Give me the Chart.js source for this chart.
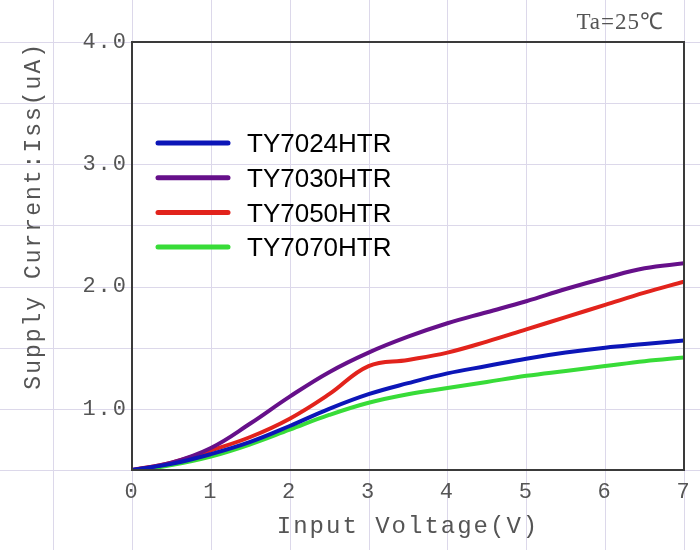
<!DOCTYPE html>
<html>
<head>
<meta charset="utf-8">
<script src="https://cdn.jsdelivr.net/npm/chart.js@4.4.1/dist/chart.umd.min.js"></script>
<style>
  html, body { margin: 0; padding: 0; background: #fff; }
  #wrap { width: 700px; height: 550px; }
</style>
</head>
<body>
<div id="wrap"><canvas id="issChart"></canvas></div>
<script>
// input voltage (V)
const voltage = [0, 0.5, 1, 1.5, 2, 2.5, 3, 3.5, 4, 4.5, 5, 5.5, 6, 6.5, 7];
// supply current Iss (uA)
const ty7024 = [0.50, 0.55, 0.63, 0.73, 0.86, 1.00, 1.12, 1.21, 1.29, 1.35, 1.41, 1.46, 1.50, 1.53, 1.56];
const ty7030 = [0.50, 0.56, 0.68, 0.88, 1.10, 1.30, 1.46, 1.59, 1.70, 1.79, 1.88, 1.98, 2.07, 2.15, 2.19];
const ty7050 = [0.50, 0.56, 0.66, 0.77, 0.92, 1.12, 1.35, 1.40, 1.46, 1.55, 1.65, 1.75, 1.85, 1.95, 2.04];
const ty7070 = [0.49, 0.54, 0.61, 0.71, 0.83, 0.95, 1.05, 1.12, 1.17, 1.22, 1.27, 1.31, 1.35, 1.39, 1.42];

const seriesNames = ["TY7024HTR", "TY7030HTR", "TY7050HTR", "TY7070HTR"];
const seriesValues = [ty7024, ty7030, ty7050, ty7070];
const seriesColors = ["#0c16b8", "#66108a", "#e2231c", "#38dc38"];

const axisFont = "'Liberation Mono', 'DejaVu Sans Mono', monospace";
const textGray = "#555";

// background grid paper + plot frame + legend + temperature note
const paperPlugin = {
  id: "paper",
  beforeDraw(chart) {
    const ctx = chart.ctx;
    const xs = chart.scales.x, ys = chart.scales.y;
    ctx.save();
    ctx.strokeStyle = "#dcd8ea";
    ctx.lineWidth = 1;
    for (let v = -1; v <= 7; v++) {
      const px = Math.round(xs.getPixelForValue(v)) + 0.5;
      ctx.beginPath(); ctx.moveTo(px, 0); ctx.lineTo(px, chart.height); ctx.stroke();
    }
    for (let v = 0.5; v <= 4; v += 0.5) {
      const py = Math.round(ys.getPixelForValue(v)) + 0.5;
      ctx.beginPath(); ctx.moveTo(0, py); ctx.lineTo(chart.width, py); ctx.stroke();
    }
    ctx.restore();
    // axis texts in the original are spaced out
    ctx.letterSpacing = "2px";
  },
  beforeDatasetsDraw(chart) {
    chart.ctx.letterSpacing = "0px";
  },
  afterDraw(chart) {
    const ctx = chart.ctx;
    const a = chart.chartArea;
    ctx.save();
    ctx.strokeStyle = "#3a3a3a";
    ctx.lineWidth = 2;
    ctx.strokeRect(a.left, a.top, a.right - a.left, a.bottom - a.top);

    // legend inside plot
    ctx.font = "26px 'Liberation Sans', Arial, sans-serif";
    ctx.textBaseline = "middle";
    ctx.textAlign = "left";
    chart.data.datasets.forEach((ds, i) => {
      const y = a.top + 101 + i * 34.7;
      ctx.strokeStyle = ds.borderColor;
      ctx.lineWidth = 5;
      ctx.lineCap = "round";
      ctx.beginPath(); ctx.moveTo(a.left + 26, y); ctx.lineTo(a.left + 96, y); ctx.stroke();
      ctx.fillStyle = "#000";
      ctx.fillText(ds.label, a.left + 115, y + 2);
    });

    // ambient temperature note
    ctx.font = "23px 'Liberation Serif', serif";
    ctx.fillStyle = textGray;
    ctx.textAlign = "right";
    ctx.textBaseline = "middle";
    ctx.letterSpacing = "1px";
    ctx.fillText("Ta=25℃", a.right - 20, a.top - 19);
    ctx.letterSpacing = "0px";
    ctx.restore();
  }
};

const datasets = seriesNames.map((name, i) => ({
  label: name,
  data: voltage.map((v, k) => ({ x: v, y: seriesValues[i][k] })),
  borderColor: seriesColors[i],
  backgroundColor: seriesColors[i],
  borderWidth: 4,
  pointRadius: 0,
  tension: 0.4,
  fill: false
}));

new Chart(document.getElementById("issChart"), {
  type: "line",
  data: { datasets: datasets },
  options: {
    responsive: true,
    maintainAspectRatio: false,
    animation: false,
    layout: { padding: { top: 42, right: 16, left: 0, bottom: 0 } },
    plugins: {
      legend: { display: false },
      tooltip: { enabled: false }
    },
    scales: {
      x: {
        type: "linear",
        min: 0,
        max: 7,
        grid: { display: false, drawTicks: false },
        border: { display: false },
        ticks: {
          stepSize: 1,
          padding: 9,
          color: textGray,
          font: { family: axisFont, size: 22 }
        },
        title: {
          display: true,
          text: "Input Voltage(V)",
          color: textGray,
          font: { family: axisFont, size: 24 },
          padding: { top: 0, bottom: 9 }
        },
        afterFit(scale) { scale.height = 80; }
      },
      y: {
        min: 0.5,
        max: 4,
        grid: { display: false, drawTicks: false },
        border: { display: false },
        ticks: {
          stepSize: 0.5,
          padding: 4,
          color: textGray,
          font: { family: axisFont, size: 22 },
          callback: v => (Number.isInteger(v) ? v.toFixed(1) : "")
        },
        title: {
          display: true,
          text: "Supply Current:Iss(uA)",
          align: "end",
          color: textGray,
          font: { family: axisFont, size: 23 },
          padding: { top: 20, bottom: 0 }
        },
        afterFit(scale) { scale.width = 132; }
      }
    }
  },
  plugins: [paperPlugin]
});
</script>
</body>
</html>
